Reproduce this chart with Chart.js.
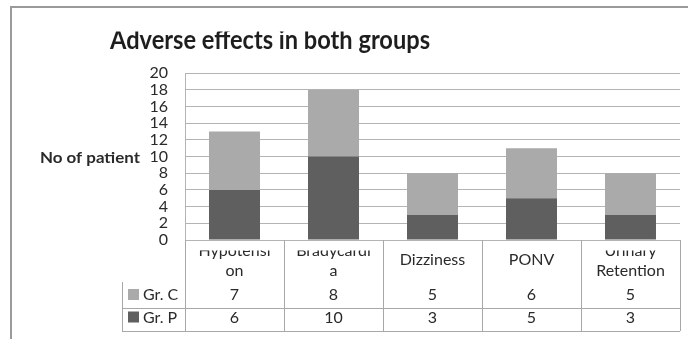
<!DOCTYPE html>
<html>
<head>
<meta charset="utf-8">
<script src="https://cdn.jsdelivr.net/npm/chart.js@4/dist/chart.umd.min.js"></script>
<style>
  html, body { margin: 0; padding: 0; background: #ffffff; }
  #wrap { width: 688px; height: 339px; position: relative; }
</style>
</head>
<body>
<div id="wrap"><canvas id="c" width="688" height="339"></canvas></div>
<script>
// Adverse effects per group
const categories = ['Hypotension', 'Bradycardia', 'Dizziness', 'PONV', 'Urinary Retention'];
// header text as it wraps inside the data-table cells
const categoryLines = [['Hypotensi', 'on'], ['Bradycardi', 'a'], ['Dizziness'], ['PONV'], ['Urinary', 'Retention']];
const groupP = [6, 10, 3, 5, 3];
const groupC = [7, 8, 5, 6, 5];
const seriesNames = ['Gr. C', 'Gr. P'];
const yTicks = [0, 2, 4, 6, 8, 10, 12, 14, 16, 18, 20];

const DARK = '#5f5f5f';
const LIGHT = '#aaaaaa';
const FONT = 'Lato, "Open Sans", sans-serif';
const TEXT = '#2a2a2a';
const LINE = '#a8a8a8';

// draws text so that it spans exactly `width` pixels
function fitText(ctx, text, x, y, width) {
  const w = ctx.measureText(text).width;
  ctx.save();
  ctx.translate(x, y);
  ctx.scale(width / w, 1);
  ctx.fillText(text, 0, 0);
  ctx.restore();
}

const framePlugin = {
  id: 'frame',
  beforeDraw(chart) {
    const ctx = chart.ctx;
    ctx.save();
    ctx.fillStyle = '#ffffff';
    ctx.fillRect(0, 0, chart.width, chart.height);
    ctx.strokeStyle = '#9a9a9a';
    ctx.lineWidth = 2;
    ctx.beginPath();
    ctx.moveTo(11, chart.height);
    ctx.lineTo(11, 7);
    ctx.lineTo(chart.width, 7);
    ctx.stroke();
    ctx.restore();
  },
  afterDraw(chart) {
    const ctx = chart.ctx;
    const area = chart.chartArea;

    // Title (top edge clipped)
    ctx.save();
    ctx.beginPath();
    ctx.rect(0, 31.5, chart.width, 40);
    ctx.clip();
    ctx.font = 'bold 26px ' + FONT;
    ctx.fillStyle = '#1e1e1e';
    ctx.textAlign = 'left';
    ctx.textBaseline = 'alphabetic';
    fitText(ctx, 'Adverse effects in both groups', 110, 48.5, 320);
    ctx.restore();

    // Horizontal y-axis title
    ctx.save();
    ctx.font = 'bold 16px ' + FONT;
    ctx.fillStyle = TEXT;
    ctx.textAlign = 'left';
    ctx.textBaseline = 'alphabetic';
    fitText(ctx, 'No of patient', 40, 163, 100);
    ctx.restore();

    // Data table under the plot
    const n = categories.length;
    const cw = (area.right - area.left) / n;
    const top = area.bottom;
    const rowC = top + 42;
    const rowP = top + 68;
    const bottom = top + 91;
    const keyLeft = 122;

    ctx.save();
    ctx.strokeStyle = LINE;
    ctx.lineWidth = 1;
    ctx.beginPath();
    for (let i = 0; i <= n; i++) {
      const x = Math.round(area.left + i * cw) + 0.5;
      ctx.moveTo(x, top);
      ctx.lineTo(x, bottom);
    }
    ctx.moveTo(keyLeft + 0.5, rowC);
    ctx.lineTo(keyLeft + 0.5, bottom);
    ctx.moveTo(keyLeft, rowP + 0.5);
    ctx.lineTo(area.right, rowP + 0.5);
    ctx.moveTo(keyLeft, bottom + 0.5);
    ctx.lineTo(area.right, bottom + 0.5);
    ctx.stroke();
    ctx.restore();

    // Category headers (first wrapped line runs past the cell top)
    ctx.save();
    ctx.beginPath();
    ctx.rect(area.left, top + 10.5, area.right - area.left, rowC - top - 10.5);
    ctx.clip();
    ctx.font = '16px ' + FONT;
    ctx.fillStyle = TEXT;
    ctx.textAlign = 'center';
    ctx.textBaseline = 'alphabetic';
    categoryLines.forEach((lines, i) => {
      const cx = chart.scales.x.getPixelForValue(i);
      if (lines.length === 1) {
        ctx.fillText(lines[0], cx, top + 25);
      } else {
        ctx.fillText(lines[0], cx, top + 16);
        ctx.fillText(lines[1], cx, top + 35.5);
      }
    });
    ctx.restore();

    // Value rows with legend keys
    const rows = [
      { name: seriesNames[0], color: LIGHT, values: groupC, base: top + 60 },
      { name: seriesNames[1], color: DARK, values: groupP, base: top + 82.5 }
    ];
    ctx.save();
    ctx.font = '16px ' + FONT;
    ctx.textBaseline = 'alphabetic';
    rows.forEach(r => {
      ctx.fillStyle = r.color;
      ctx.fillRect(128, r.base - 11, 11, 11);
      ctx.fillStyle = TEXT;
      ctx.textAlign = 'left';
      ctx.fillText(r.name, 143, r.base);
      ctx.textAlign = 'center';
      r.values.forEach((v, i) => {
        ctx.fillText(String(v), chart.scales.x.getPixelForValue(i), r.base);
      });
    });
    ctx.restore();
  }
};

new Chart(document.getElementById('c'), {
  type: 'bar',
  data: {
    labels: categories,
    datasets: [
      { label: seriesNames[1], data: groupP, backgroundColor: DARK, stack: 's' },
      { label: seriesNames[0], data: groupC, backgroundColor: LIGHT, stack: 's' }
    ]
  },
  options: {
    responsive: false,
    animation: false,
    devicePixelRatio: 1,
    layout: { padding: { top: 73, left: 0, right: 8, bottom: 99 } },
    plugins: {
      legend: { display: false },
      title: { display: false },
      tooltip: { enabled: false }
    },
    datasets: { bar: { categoryPercentage: 1, barPercentage: 0.515 } },
    scales: {
      x: {
        stacked: true,
        display: true,
        grid: { display: false, drawTicks: false },
        border: { display: false },
        ticks: { display: false },
        afterFit(s) { s.height = 0; }
      },
      y: {
        stacked: true,
        min: 0,
        max: 20,
        afterBuildTicks(s) { s.ticks = yTicks.map(v => ({ value: v })); },
        afterFit(s) { s.width = 185; },
        grid: { color: '#b4b4b4', lineWidth: 1, drawTicks: false },
        border: { display: true, color: '#b4b4b4', width: 1 },
        ticks: {
          autoSkip: false,
          padding: 17,
          color: TEXT,
          font: { family: FONT, size: 16 }
        }
      }
    }
  },
  plugins: [framePlugin]
});
</script>
</body>
</html>
